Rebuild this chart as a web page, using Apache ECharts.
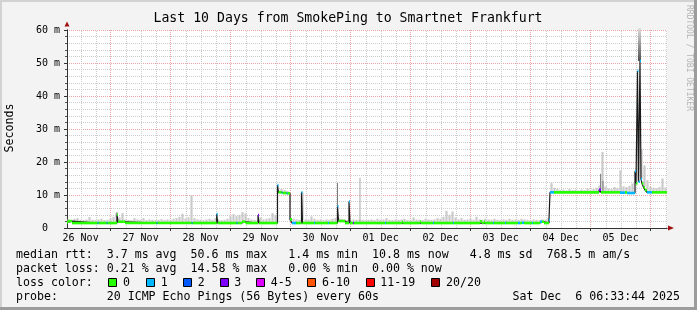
<!DOCTYPE html>
<html><head><meta charset="utf-8">
<script src="https://cdn.jsdelivr.net/npm/echarts@6/dist/echarts.min.js"></script>
<style>html,body{margin:0;padding:0;background:#f3f3f3}#c{width:697px;height:310px}</style>
</head><body><div id="c"></div>
<script>
// ---- time axis: hours since 26 Nov 00:00 ----
const START_H = 6.5622;   // 26 Nov 06:33:44
const END_H = 246.5622;   // 06 Dec 06:33:44
const dayLabels = ['26 Nov','27 Nov','28 Nov','29 Nov','30 Nov','01 Dec','02 Dec','03 Dec','04 Dec','05 Dec'];
const dayLabelHours = [12,36,60,84,108,132,156,180,204,228];
const midnightHours = [24,48,72,96,120,144,168,192,216,240];
const minorHourMarks = [12,18,30,36,42,54,60,66,78,84,90,102,108,114,126,132,138,150,156,162,174,180,186,198,204,210,222,228,234,246];
const yTickLabels = ['0  ','10 m','20 m','30 m','40 m','50 m','60 m'];

// ---- median rtt (ms) with loss class per sample (step after) ----
const medianHours = [6.56,6.96,8.56,18.84,19.24,22.44,22.84,26.56,26.96,29.76,42.44,42.84,56.44,56.84,66.44,66.84,74.44,74.84,76.56,77.96,82.96,83.36,90.76,91.16,92.44,92.84,94.44,94.84,95.76,96.56,98.16,100.36,100.76,105.36,105.76,110.96,111.36,114.76,115.16,117.76,119.36,119.76,120.96,121.36,133.76,134.16,140.56,140.96,147.76,148.16,152.96,153.36,160.96,161.36,171.76,172.56,173.36,173.76,176.96,177.36,181.76,182.16,186.96,187.76,188.56,189.36,192.56,192.96,195.76,196.56,197.36,199.36,199.76,201.36,219.36,220.16,227.76,229.76,230.56,233.76,234.16,234.76,235.16,235.76,236.16,236.56,237.16,237.76,238.56,240.56,246.56];
const medianValues = [1.7,2.1,1.5,1.5,1.5,1.5,1.5,4.0,1.9,1.5,1.5,1.5,1.5,1.5,4.2,1.5,1.5,1.5,1.9,1.5,3.9,1.5,13.0,10.8,10.6,10.6,10.5,10.5,2.6,1.5,1.5,10.8,1.5,1.5,1.5,1.5,1.5,6.6,2.1,1.5,8.0,1.5,1.5,1.5,1.5,1.5,1.9,1.5,1.9,1.5,1.5,1.5,1.5,1.5,2.0,1.5,1.9,1.5,1.5,1.5,1.5,1.5,1.5,1.5,1.6,1.5,1.5,1.5,1.9,1.9,1.5,2.5,10.8,10.8,11.6,10.8,10.7,10.8,10.6,17.2,13.5,47.6,14.0,50.6,14.8,13.5,12.3,11.5,10.8,10.8,10.8];
const medianLoss = [0,0,0,1,0,1,0,0,0,0,1,0,1,0,1,0,1,0,0,0,3,0,1,0,1,0,1,0,0,1,0,1,0,1,0,1,0,1,0,0,1,0,3,0,1,0,0,0,0,0,1,0,1,0,0,0,0,0,1,0,1,0,1,0,1,0,1,0,1,0,0,1,1,0,3,0,1,0,1,1,0,1,1,1,1,0,0,0,1,0,0];

// ---- smoke (top of ping spread, ms), sampled every 1.2 h from 7.16 h ----
const smokeStartHour = 7.16, smokeStepHours = 1.2;
const smokeTops = [
2.6,2.4,2.8,3.0,2.5,2.4,2.6,3.3,2.5,2.4,
2.6,2.8,2.4,2.5,2.9,3.4,4.6,3.2,4.5,2.6,
2.5,2.4,3.0,2.6,2.5,3.0,2.4,2.6,2.5,2.4,
2.5,2.7,2.4,2.6,2.5,2.8,3.0,3.4,4.3,2.9,
3.2,10.0,3.0,2.6,2.5,2.4,2.6,2.8,2.5,3.0,
2.6,2.4,2.5,2.8,3.5,4.2,3.6,4.0,4.8,4.4,
3.0,2.6,2.5,2.4,3.2,2.6,2.8,3.0,4.5,4.0,
11.3,11.8,11.5,11.2,3.2,2.8,2.6,2.5,2.4,2.6,
2.6,3.5,2.8,2.5,2.6,2.4,2.6,2.5,2.8,3.0,
3.0,2.8,2.6,2.5,2.4,2.6,2.5,2.6,2.5,2.4,
2.5,2.6,2.4,2.8,2.5,2.6,3.0,2.5,2.4,2.6,
2.5,2.6,2.8,2.4,2.5,3.2,2.6,2.5,2.4,2.8,
2.6,2.5,2.6,3.0,2.8,3.4,5.2,4.0,5.0,3.2,
2.6,3.0,2.5,2.6,2.8,2.5,3.4,2.6,2.5,2.8,
2.6,2.5,2.8,2.5,2.4,2.6,2.5,2.8,2.5,2.6,
2.5,2.8,2.6,2.5,2.4,2.6,2.5,2.4,2.6,2.5,
3.0,13.6,12.2,11.8,11.5,11.6,11.4,11.8,11.5,11.6,
11.4,11.7,11.5,12.0,11.6,11.8,12.2,12.8,23.0,12.6,
12.0,11.8,12.4,12.2,17.5,12.6,12.4,12.8,13.5,16.0,
28.0,24.0,19.0,14.5,12.5,12.2,12.0,12.4,15.0,12.3
];
// darker single outlier pings: [hour, low ms, high ms]
const smokeMid = [[123.76,1.5,15.2]];
const smokeDark = [[26.56,4.0,4.8],[114.76,6.6,13.6],[220.0,11.6,16.4],[220.96,10.8,14.3]];
const smokeColumn = [[235.56,50.6,60.5]];

const lossLegendLabels = ['0','1','2','3','4-5','6-10','11-19','20/20'];
const lossColors = ['#26ff00','#00b8ff','#0059ff','#7e00ff','#dd00ff','#ff5500','#ff0000','#a10000'];

// ---- build series data ----
function medianAt(h){ let v = medianValues[0]; for (let i=0;i<medianHours.length;i++){ if (medianHours[i] <= h) v = medianValues[i]; else break; } return v; }
const smokeData = smokeTops.map((t,i)=>{ const h = smokeStartHour + i*smokeStepHours; return [h, medianAt(h), t]; });
const medianLine = medianHours.map((h,i)=>[h, medianValues[i]]);
const medianSegs = [];
for (let i=0;i<medianHours.length-1;i++) medianSegs.push([medianHours[i], medianHours[i+1], medianValues[i], medianLoss[i]]);
const minorMarkData = minorHourMarks.map(h=>[h]);

const FONT = '"DejaVu Sans Mono", monospace';
function vline(color, width){
  return function(params, api){
    const p1 = api.coord([api.value(0), api.value(1)]);
    const p2 = api.coord([api.value(0), api.value(2)]);
    return {type:'line', shape:{x1:p1[0],y1:p1[1],x2:p2[0],y2:p2[1]}, style:{stroke:color, lineWidth:width}};
  };
}
const chart = echarts.init(document.getElementById('c'), null, {renderer:'canvas'});
const MAJOR = '#eba4a4', MINOR = '#cdcdcd';
const option = {
  animation:false,
  backgroundColor:'#f3f3f3',
  textStyle:{fontFamily:FONT},
  grid:{left:67, top:30, width:600, height:198, show:true, backgroundColor:'#ffffff', borderWidth:0},
  xAxis:[
    { type:'value', min:START_H, max:END_H, position:'bottom',
      axisLine:{show:true, lineStyle:{color:'#a01010', width:1}, symbol:['none','triangle'], symbolSize:[5,6], symbolOffset:[0,4]},
      axisTick:{show:false}, axisLabel:{show:false}, splitLine:{show:false} },
    { type:'value', min:START_H, max:END_H, position:'bottom',
      axisLine:{show:true, lineStyle:{color:'#333', width:1}},
      axisTick:{show:true, customValues:midnightHours, length:3, lineStyle:{color:'#333'}},
      axisLabel:{show:true, customValues:dayLabelHours, margin:5, color:'#000', fontSize:10, fontFamily:FONT,
        formatter:v=>dayLabels[dayLabelHours.indexOf(Math.round(v))] || ''},
      splitLine:{show:true, lineStyle:{color:MAJOR, width:1, type:[1,1]}} }
  ],
  yAxis:[
    { type:'value', min:0, max:60, interval:10, position:'left',
      axisLine:{show:true, lineStyle:{color:'#a01010', width:1}, symbol:['none','triangle'], symbolSize:[5,5], symbolOffset:[0,6]},
      axisTick:{show:false}, axisLabel:{show:false}, splitLine:{show:false} },
    { type:'value', min:0, max:60, interval:10, position:'left',
      axisLine:{show:true, lineStyle:{color:'#333', width:1}},
      axisTick:{show:true, length:3, lineStyle:{color:'#333'}},
      minorTick:{show:true, splitNumber:5, length:2, lineStyle:{color:'#555'}},
      axisLabel:{show:true, margin:7, color:'#000', fontSize:10, fontFamily:FONT, formatter:v=>yTickLabels[Math.round(v/10)]},
      splitLine:{show:true, lineStyle:{color:MAJOR, width:1, type:[1,1]}},
      minorSplitLine:{show:true, lineStyle:{color:MINOR, width:1, type:[1,1]}} }
  ],
  series:[
    // minor vertical grid (every 6 h) drawn through the x scale
    {type:'custom', xAxisIndex:1, yAxisIndex:1, data:minorMarkData, encode:{x:0}, silent:true, z:0,
      renderItem:function(params, api){
        const p1 = api.coord([api.value(0), 0]);
        const p2 = api.coord([api.value(0), 60]);
        const x = Math.round(p1[0]) + 0.5;
        return {type:'line', shape:{x1:x,y1:p1[1],x2:x,y2:p2[1]}, style:{stroke:MINOR, lineWidth:1, lineDash:[1,1]}};
      }},
    {type:'custom', xAxisIndex:1, yAxisIndex:1, data:smokeData, encode:{x:0,y:[1,2]}, renderItem:vline('#cacaca',2.2), silent:true, z:1},
    {type:'custom', xAxisIndex:1, yAxisIndex:1, data:smokeMid, encode:{x:0,y:[1,2]}, renderItem:vline('#a8a8a8',1), silent:true, z:1},
    {type:'custom', xAxisIndex:1, yAxisIndex:1, data:smokeDark, encode:{x:0,y:[1,2]}, renderItem:vline('#7a7a7a',1), silent:true, z:1},
    {type:'custom', xAxisIndex:1, yAxisIndex:1, data:smokeColumn, encode:{x:0,y:[1,2]}, silent:true, z:1,
      renderItem:function(params, api){
        const p1 = api.coord([api.value(0), api.value(1)]);
        const p2 = api.coord([api.value(0), api.value(2)]);
        return {type:'rect', shape:{x:p1[0]-1.5, y:p2[1], width:3, height:p1[1]-p2[1]},
          style:{fill:new echarts.graphic.LinearGradient(0,0,0,1,[{offset:0,color:'#dcdcdc'},{offset:1,color:'#505050'}])}};
      }},
    {type:'line', xAxisIndex:1, yAxisIndex:1, data:medianLine, step:'end', symbol:'none', silent:true, z:2,
      lineStyle:{color:'#1a1a1a', width:1.2}},
    {type:'custom', xAxisIndex:1, yAxisIndex:1, data:medianSegs, encode:{x:[0,1],y:2}, silent:true, z:3,
      renderItem:function(params, api){
        const p1 = api.coord([api.value(0), api.value(2)]);
        const p2 = api.coord([api.value(1), api.value(2)]);
        return {type:'line', shape:{x1:p1[0],y1:p1[1],x2:p2[0],y2:p2[1]}, style:{stroke:lossColors[api.value(3)], lineWidth:2.6}};
      }}
  ],
  graphic:[]
};
const G = [];
const txt = (x,y,text,opts)=>Object.assign({type:'text', x, y, silent:true, style:Object.assign({text, fill:'#000', font:'11.6px '+FONT, align:'left', verticalAlign:'middle'}, (opts&&opts.style)||{})}, opts&&opts.rot!==undefined?{rotation:opts.rot}:{});
// frame
G.push({type:'rect', shape:{x:0,y:0,width:697,height:2}, style:{fill:'#d2d2d2'}, silent:true});
G.push({type:'rect', shape:{x:0,y:0,width:2,height:310}, style:{fill:'#d2d2d2'}, silent:true});
G.push({type:'rect', shape:{x:694,y:0,width:3,height:310}, style:{fill:'#9c9c9c'}, silent:true});
G.push({type:'rect', shape:{x:0,y:307,width:697,height:3}, style:{fill:'#9c9c9c'}, silent:true});
G.push(txt(348,19,'Last 10 Days from SmokePing to Smartnet Frankfurt',{style:{font:'13.2px '+FONT, align:'center'}}));
G.push(txt(10,128,'Seconds',{rot:Math.PI/2, style:{align:'center'}}));
G.push(txt(689,58,'RRDTOOL / TOBI OETIKER',{rot:-Math.PI/2, style:{align:'center', font:'8px '+FONT, fill:'#b4b4b4'}}));
G.push(txt(16,254.5,'median rtt:  3.7 ms avg  50.6 ms max   1.4 ms min  10.8 ms now   4.8 ms sd  768.5 m am/s'));
G.push(txt(16,268.5,'packet loss: 0.21 % avg  14.58 % max   0.00 % min  0.00 % now'));
G.push(txt(16,282.5,'loss color:'));
const boxX = [108.3,146,183,219.5,256,307.3,365.5,431.3];
lossLegendLabels.forEach((l,i)=>{
  G.push({type:'rect', shape:{x:Math.round(boxX[i])+0.5, y:278.5, width:8, height:8}, style:{fill:lossColors[i], stroke:'#000', lineWidth:1}, silent:true});
  G.push(txt(boxX[i]+14.8, 282.5, l));
});
G.push(txt(16,296.5,'probe:       20 ICMP Echo Pings (56 Bytes) every 60s'));
G.push(txt(680,296.5,'Sat Dec  6 06:33:44 2025',{style:{align:'right'}}));
option.graphic = G;
chart.setOption(option);
</script></body></html>
